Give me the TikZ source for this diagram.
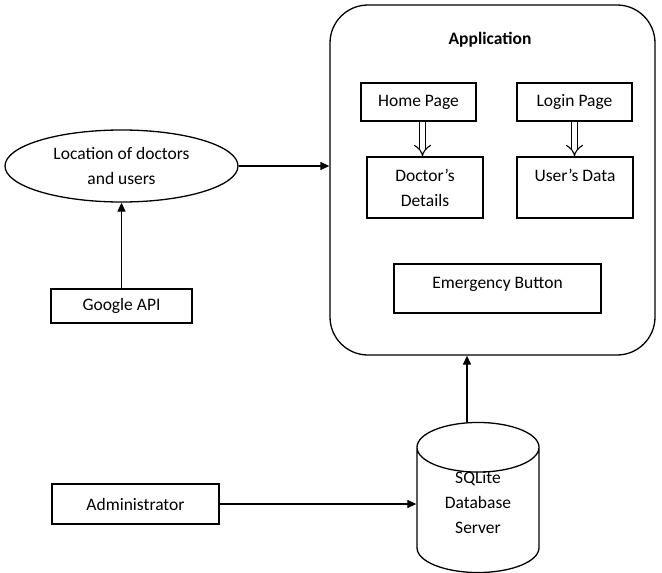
\documentclass[tikz,border=0pt]{standalone}
\usepackage{fontspec}
\setmainfont{Carlito}
\usetikzlibrary{shapes.geometric, arrows.meta}

\begin{document}
\begin{tikzpicture}[x=1pt, y=-1pt, line width=1.3pt,
  font=\fontsize{17.5}{25}\selectfont,
  box/.style={draw, rectangle, align=center, inner sep=0pt},
  link/.style={-{Triangle[length=9pt, width=8pt]}},
  hollow/.style={double, double distance=5pt, line width=1.1pt, -{Implies}}]
  \useasboundingbox (0,0) rectangle (662,573);

  \node[draw, rectangle, rounded corners=38pt, minimum width=325pt, minimum height=350pt] (app) at (492.5,180) {};
  \node[font=\fontsize{17.5}{25}\selectfont\bfseries] (apptitle) at (490,40) {Application};
  \node[box, minimum width=115pt, minimum height=38pt] (home) at (418.5,102) {Home Page};
  \node[box, minimum width=115pt, minimum height=38pt] (login) at (574.5,102) {Login Page};
  \node[box, minimum width=116pt, minimum height=61pt] (doctor) at (425,187.5) {Doctor’s\\Details};
  \node[box, minimum width=116pt, minimum height=61pt] (userdata) at (575,187.5) {User’s Data\\\mbox{}};
  \node[box, minimum width=207pt, minimum height=49pt, text height=13pt, text depth=13pt] (emergency) at (497.5,288.5) {Emergency Button};

  \node[draw, ellipse, align=center, inner sep=0pt, minimum width=233pt, minimum height=72pt] (loc) at (121.5,166) {Location of doctors\\and users};
  \node[box, minimum width=141pt, minimum height=34pt] (google) at (121.5,306) {Google API};
  \node[box, minimum width=167pt, minimum height=40pt] (admin) at (135.5,504) {Administrator};
  \node[draw, cylinder, shape border rotate=90, aspect=0.75, inner sep=0pt,
        minimum width=122pt, minimum height=145pt, anchor=shape center] (db) at (478,497.5)
        {\raisebox{7pt}[\height][\depth]{\begin{tabular}{@{}c@{}}SQLite\\Database\\Server\end{tabular}}};

  \draw[hollow] ([xshift=4pt]home.south) -- ([xshift=4pt]home.south |- doctor.north);
  \draw[hollow] (login.south) -- (login.south |- userdata.north);
  \draw[link] (loc.east) -- (loc.east -| app.west);
  \draw[link] (google.north) -- (loc.south);
  \draw[link] (admin.east) -- (admin.east -| db.west);
  \draw[link] ([xshift=-11pt]db.north) -- ([xshift=-11pt]db.north |- app.south);
\end{tikzpicture}
\end{document}
